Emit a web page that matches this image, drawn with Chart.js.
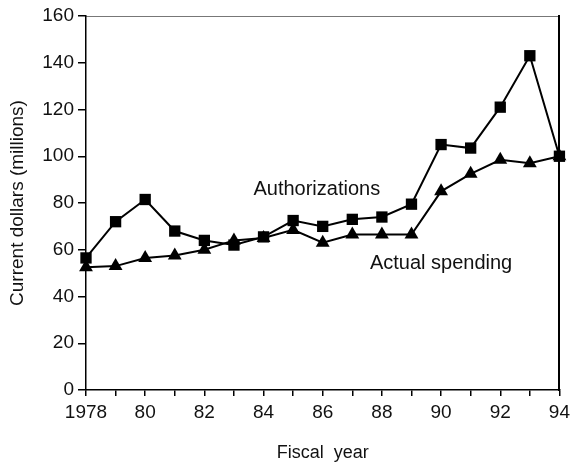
<!DOCTYPE html>
<html lang="en">
<head>
<meta charset="UTF-8">
<title>Authorizations vs Actual Spending</title>
<script src="https://cdn.jsdelivr.net/npm/chart.js"></script>
<style>
  html, body { margin: 0; padding: 0; background: #fff; }
  #wrap { width: 575px; height: 466px; }
</style>
</head>
<body>
<div id="wrap"><canvas id="spendChart" width="575" height="466"></canvas></div>
<script>
// Fiscal years and values (current dollars, millions)
const years = [1978, 1979, 1980, 1981, 1982, 1983, 1984, 1985, 1986, 1987, 1988, 1989, 1990, 1991, 1992, 1993, 1994];
const authorizations = [56.5, 72, 81.5, 68, 64, 62, 65.5, 72.5, 70, 73, 74, 79.5, 105, 103.5, 121, 143, 100];
const actualSpending = [52.5, 53, 56.5, 57.5, 60, 64, 65, 68.5, 63, 66.5, 66.5, 66.5, 85, 92.5, 98.5, 97, 100];

// x tick labels (only even years get text)
const xTickYears = [1978, 1980, 1982, 1984, 1986, 1988, 1990, 1992, 1994];
const xTickLabels = ['1978', '80', '82', '84', '86', '88', '90', '92', '94'];

const FONT = '"Liberation Sans", Arial, Helvetica, sans-serif';

// series names written next to the lines
const seriesLabels = {
    id: 'seriesLabels',
    afterDatasetsDraw(chart) {
        const {ctx, scales: {x, y}} = chart;
        ctx.save();
        ctx.fillStyle = '#111';
        ctx.font = '20px ' + FONT;
        ctx.textAlign = 'center';
        ctx.textBaseline = 'middle';
        ctx.fillText('Authorizations', x.getPixelForValue(1985.8), y.getPixelForValue(85.6));
        ctx.fillText('Actual spending', x.getPixelForValue(1990.0), y.getPixelForValue(54.3));
        ctx.restore();
    }
};

new Chart(document.getElementById('spendChart'), {
    type: 'line',
    data: {
        datasets: [
            {
                label: 'Authorizations',
                data: years.map((yr, i) => ({x: yr, y: authorizations[i]})),
                borderColor: '#000',
                backgroundColor: '#000',
                borderWidth: 2,
                pointStyle: 'rect',
                pointRadius: 8,
                pointBorderWidth: 0,
                tension: 0,
                clip: false
            },
            {
                label: 'Actual spending',
                data: years.map((yr, i) => ({x: yr, y: actualSpending[i]})),
                borderColor: '#000',
                backgroundColor: '#000',
                borderWidth: 2,
                pointStyle: 'triangle',
                pointRadius: 8,
                pointBorderWidth: 0,
                tension: 0,
                clip: false
            }
        ]
    },
    options: {
        responsive: false,
        animation: false,
        layout: { padding: { left: 0, top: 16, right: 13, bottom: 0 } },
        plugins: {
            legend: { display: false },
            tooltip: { enabled: false }
        },
        scales: {
            x: {
                type: 'linear',
                position: 'bottom',
                min: 1978,
                max: 1994,
                afterFit(scale) { scale.height = 76; },
                ticks: {
                    stepSize: 1,
                    autoSkip: false,
                    maxRotation: 0,
                    padding: 5,
                    color: '#111',
                    font: { family: FONT, size: 19 },
                    callback(value) {
                        const i = xTickYears.indexOf(value);
                        return i >= 0 ? xTickLabels[i] : '';
                    }
                },
                grid: { drawOnChartArea: false, drawTicks: true, tickLength: 6, color: '#000', lineWidth: 1.5 },
                border: { display: true, color: '#000', width: 1.5 },
                title: {
                    display: true,
                    text: 'Fiscal  year',
                    color: '#111',
                    font: { family: FONT, size: 18, lineHeight: 1.2 },
                    padding: { top: 0, bottom: 2 }
                }
            },
            xTop: {
                type: 'linear',
                position: 'top',
                min: 1978,
                max: 1994,
                afterFit(scale) { scale.height = 0; },
                ticks: { display: false },
                grid: { drawOnChartArea: false, drawTicks: false },
                border: { display: true, color: '#777', width: 1, dash: [2, 3] }
            },
            y: {
                type: 'linear',
                position: 'left',
                min: 0,
                max: 160,
                afterFit(scale) { scale.width = 86; },
                ticks: {
                    stepSize: 20,
                    padding: 4,
                    color: '#111',
                    font: { family: FONT, size: 19 }
                },
                grid: { drawOnChartArea: false, drawTicks: true, tickLength: 8, color: '#000', lineWidth: 1.5 },
                border: { display: true, color: '#000', width: 1.5 },
                title: {
                    display: true,
                    text: 'Current dollars (millions)',
                    color: '#111',
                    font: { family: FONT, size: 19, lineHeight: 1.2 },
                    padding: { top: 6, bottom: 0 }
                }
            },
            yRight: {
                type: 'linear',
                position: 'right',
                min: 0,
                max: 160,
                afterFit(scale) { scale.width = 0; },
                ticks: { display: false },
                grid: { drawOnChartArea: false, drawTicks: false },
                border: { display: true, color: '#000', width: 2 }
            }
        }
    },
    plugins: [seriesLabels]
});
</script>
</body>
</html>
